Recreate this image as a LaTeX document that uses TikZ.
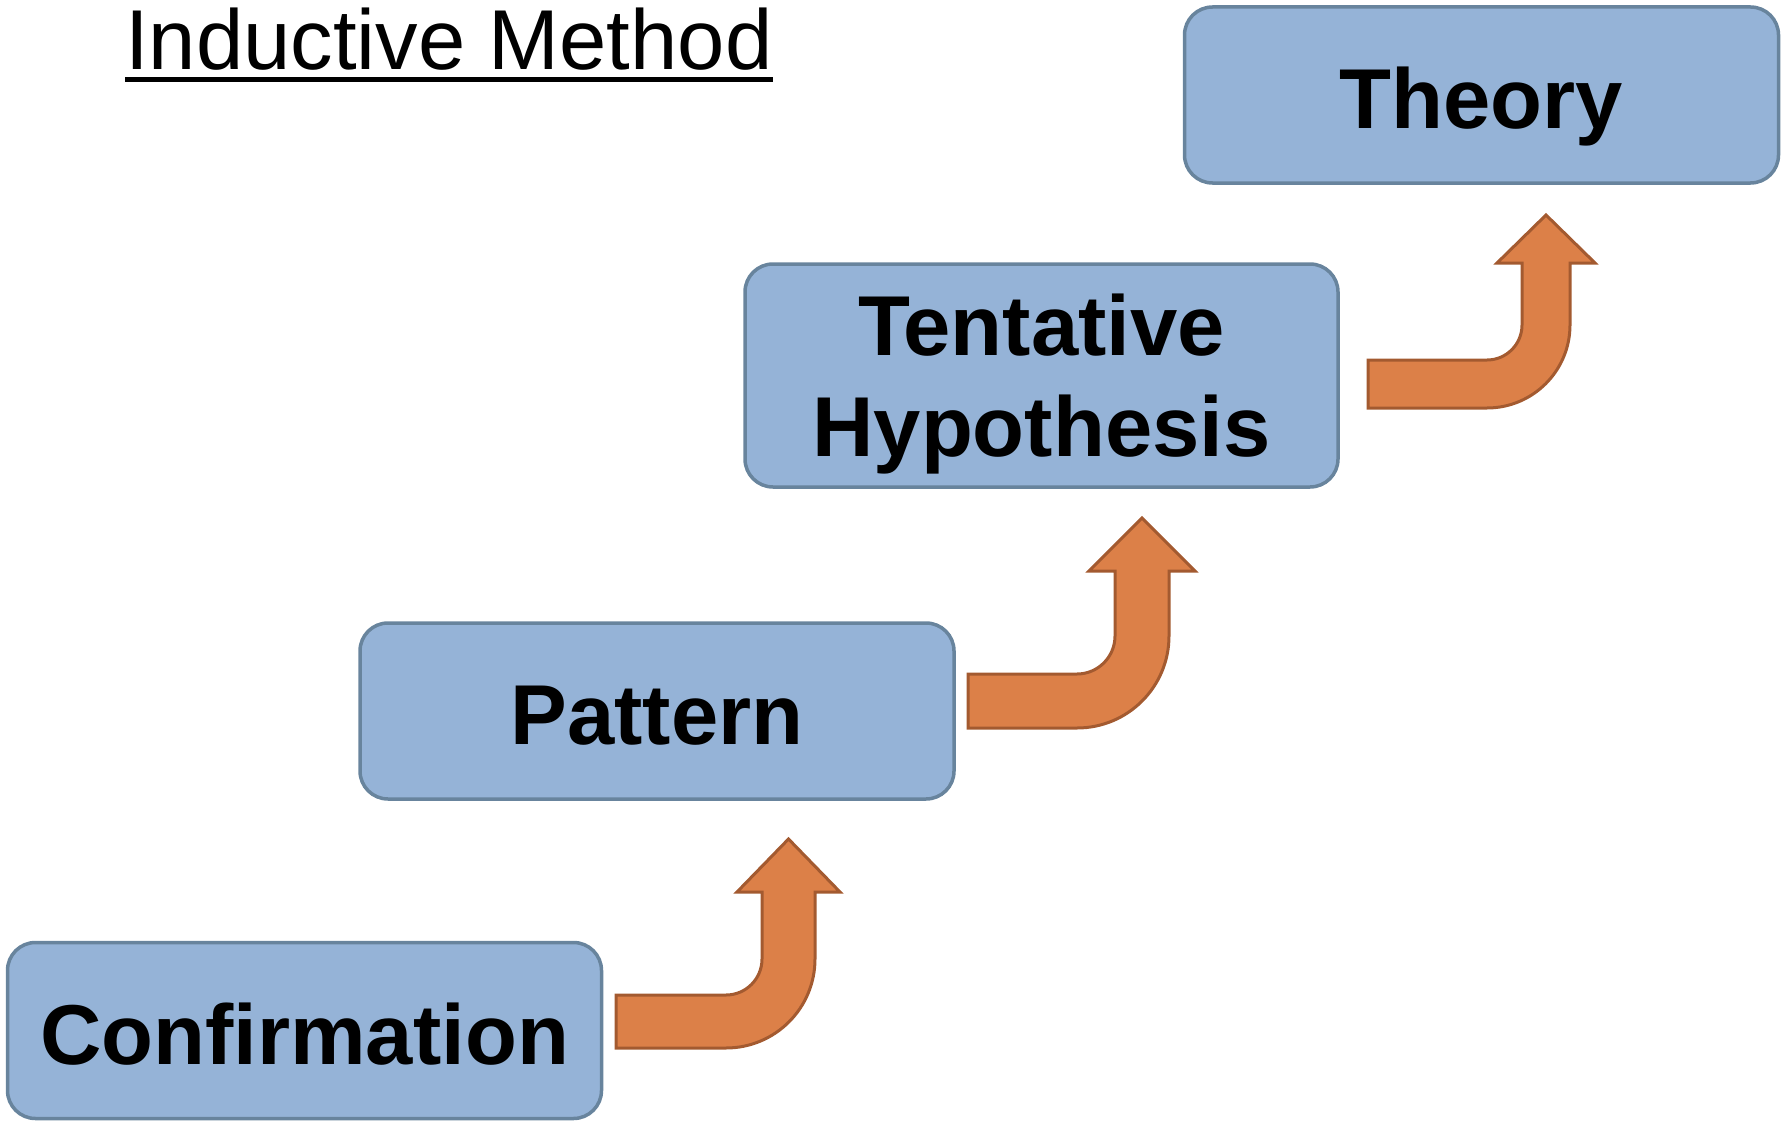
\documentclass[tikz,border=0pt]{standalone}
\usepackage{fontspec}
\setmainfont{Liberation Sans}
\definecolor{boxfill}{HTML}{95B3D7}
\definecolor{boxline}{HTML}{68849D}
\definecolor{arrfill}{HTML}{DC8048}
\definecolor{arrline}{HTML}{A35A30}
\tikzset{
  stage/.style={draw=boxline, fill=boxfill, line width=3.5pt, rounded corners=28pt,
    minimum width=594pt, minimum height=176pt, inner sep=0pt, align=center,
    font=\bfseries\fontsize{85}{101}\selectfont},
  oneline/.style={text height=67pt, text depth=0pt},
  bigarrow/.style={draw=arrline, fill=arrfill, line width=3pt, line join=miter},
  titletext/.style={inner sep=0pt, anchor=base west, font=\fontsize{85}{100}\selectfont}
}
\begin{document}
\begin{tikzpicture}[x=1pt,y=1pt]
\useasboundingbox (0,0) rectangle (1788,-1121);
% title
\node[titletext] (title) at (125,-70) {Inductive Method};
\draw[line width=5pt] ([yshift=-10pt]title.base west) -- ([yshift=-10pt]title.base east);
% boxes
\node[stage, oneline] (conf) at (304.5,-1030.5) {Confirmation};
\node[stage, oneline] (patt) at (657,-711) {Pattern};
\node[stage, minimum width=593pt, minimum height=223pt, text depth=0pt] (tent) at (1041.5,-375.5) {Tentative\\Hypothesis};
\node[stage, oneline] (theo) at (1481.5,-95) {Theory};
% bent arrows
\draw[bigarrow] (616,-995) -- (726,-995) arc[start angle=-90, end angle=0, radius=36pt]
  -- (762,-892) -- (737,-892) -- (788.5,-839) -- (840,-892) -- (815,-892) -- (815,-959)
  arc[start angle=0, end angle=-90, radius=89pt] -- (616,-1048) -- cycle;
\draw[bigarrow] (968,-674) -- (1077,-674) arc[start angle=-90, end angle=0, radius=38pt]
  -- (1115,-571) -- (1089,-571) -- (1142,-518) -- (1195,-571) -- (1169,-571) -- (1169,-636)
  arc[start angle=0, end angle=-90, radius=92pt] -- (968,-728) -- cycle;
\draw[bigarrow] (1368,-360) -- (1487,-360) arc[start angle=-90, end angle=0, radius=35pt]
  -- (1522,-263) -- (1497,-263) -- (1546,-215) -- (1595,-263) -- (1570,-263) -- (1570,-325)
  arc[start angle=0, end angle=-90, radius=83pt] -- (1368,-408) -- cycle;
\end{tikzpicture}
\end{document}
